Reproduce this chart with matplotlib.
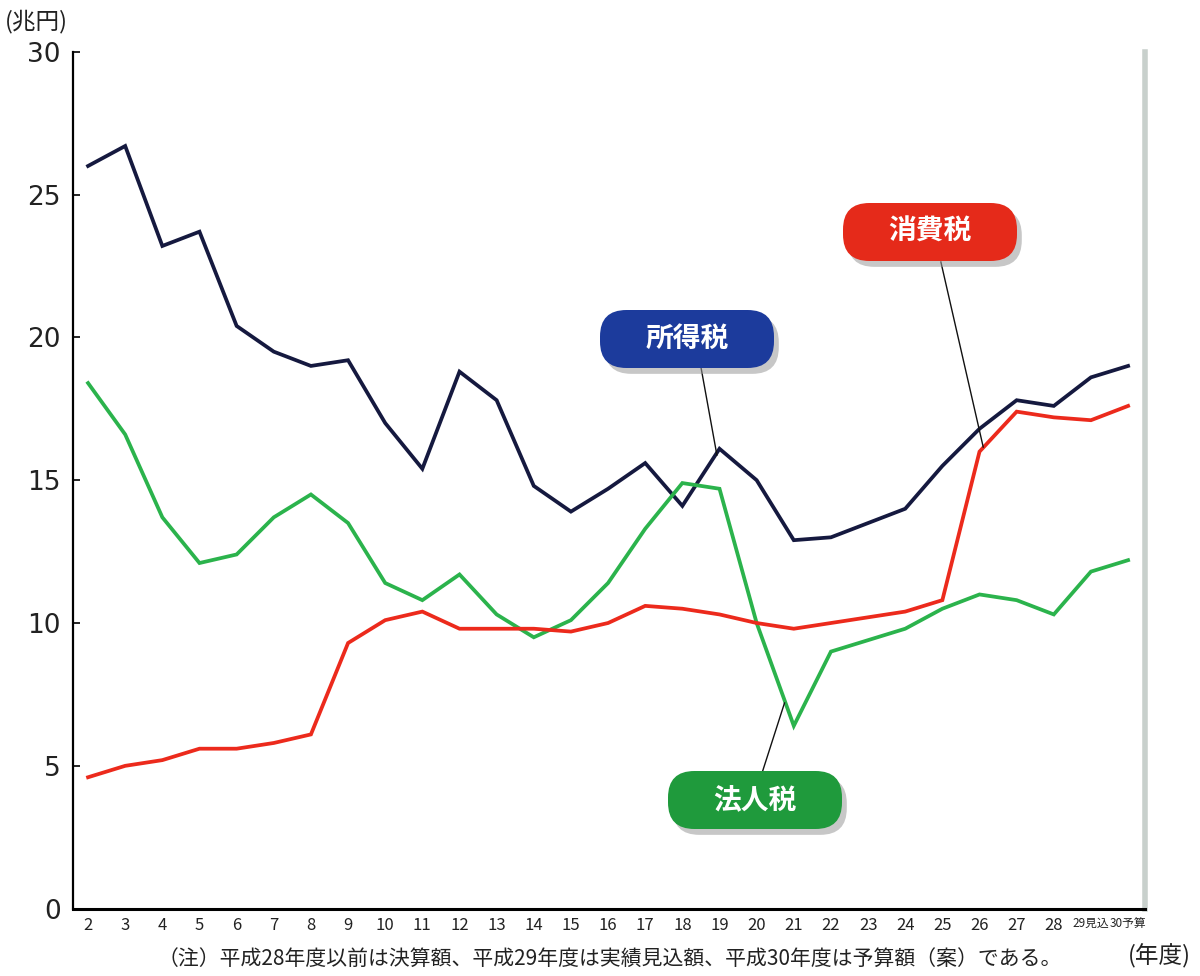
import matplotlib
matplotlib.use('Agg')
import matplotlib.pyplot as plt
from matplotlib.patches import FancyBboxPatch
from matplotlib.transforms import ScaledTranslation
import numpy as np

plt.rcParams['font.family'] = ['Noto Sans CJK JP', 'DejaVu Sans']

# 平成 fiscal years
years = list(range(2, 31))
year_labels = [str(y) for y in range(2, 29)] + ['29見込', '30予算']

income_tax = [26.0, 26.7, 23.2, 23.7, 20.4, 19.5, 19.0, 19.2, 17.0, 15.4,
              18.8, 17.8, 14.8, 13.9, 14.7, 15.6, 14.1, 16.1, 15.0, 12.9,
              13.0, 13.5, 14.0, 15.5, 16.8, 17.8, 17.6, 18.6, 19.0]
corp_tax = [18.4, 16.6, 13.7, 12.1, 12.4, 13.7, 14.5, 13.5, 11.4, 10.8,
            11.7, 10.3, 9.5, 10.1, 11.4, 13.3, 14.9, 14.7, 10.0, 6.4,
            9.0, 9.4, 9.8, 10.5, 11.0, 10.8, 10.3, 11.8, 12.2]
consumption_tax = [4.6, 5.0, 5.2, 5.6, 5.6, 5.8, 6.1, 9.3, 10.1, 10.4,
                   9.8, 9.8, 9.8, 9.7, 10.0, 10.6, 10.5, 10.3, 10.0, 9.8,
                   10.0, 10.2, 10.4, 10.8, 16.0, 17.4, 17.2, 17.1, 17.6]

NAVY = '#15193f'
RED = '#ec2a1c'
GREEN = '#2bb34c'

fig = plt.figure(figsize=(12, 9.76), dpi=100)
ax = fig.add_axes([0.061, 0.069, 0.893, 0.878])

ax.plot(years, income_tax, color=NAVY, lw=2.7, solid_joinstyle='miter', zorder=3)
ax.plot(years, corp_tax, color=GREEN, lw=2.7, solid_joinstyle='miter', zorder=3)
ax.plot(years, consumption_tax, color=RED, lw=2.7, solid_joinstyle='miter', zorder=3)

ax.set_xlim(1.6, 30.45)
ax.set_ylim(0, 30)
ax.set_yticks([0, 5, 10, 15, 20, 25, 30])
ax.set_yticklabels(['0', '5', '10', '15', '20', '25', '30'], fontsize=19,
                   family=['DejaVu Sans'], color='#222222')
ax.set_xticks(years)
ax.set_xticklabels(year_labels, fontsize=12, color='#222222')
xl = ax.get_xticklabels()
for lab, dx in zip(xl[-2:], [-4, 4]):
    lab.set_fontsize(8.5)
    lab.set_transform(lab.get_transform() + ScaledTranslation(dx / 100, 0, fig.dpi_scale_trans))
ax.tick_params(axis='y', direction='in', length=5, width=1.2, pad=9)
ax.tick_params(axis='x', length=0, pad=6)
ax.spines['top'].set_visible(False)
ax.spines['right'].set_color('#c8d0cc')
ax.spines['right'].set_linewidth(4)
ax.spines['left'].set_linewidth(1.6)
ax.spines['bottom'].set_linewidth(2.2)

fig.text(0.004, 0.978, '(兆円)', fontsize=17, color='#222222', va='center')
fig.text(0.508, 0.018, '（注）平成28年度以前は決算額、平成29年度は実績見込額、平成30年度は予算額（案）である。',
         fontsize=15, ha='center', va='center', color='#222222')
fig.text(0.966, 0.020, '(年度)', fontsize=17, ha='center', va='center', color='#222222')

# leader lines
ax.plot([18.5, 18.93], [18.96, 15.88], color='#111111', lw=1.0, zorder=4)
ax.plot([24.96, 26.1], [22.64, 16.16], color='#111111', lw=1.0, zorder=4)
ax.plot([20.14, 20.75], [4.73, 7.2], color='#111111', lw=1.0, zorder=4)

# label boxes (pixel positions on 1200x976 canvas)
boxes = [('所得税', 600, 310, '#1c3b9c'),
         ('消費税', 843, 203, '#e52a1a'),
         ('法人税', 668, 771, '#1f9a3c')]
W, H = 174, 58
for text, x0, y0, col in boxes:
    fx, fy = x0 / 1200, 1 - (y0 + H) / 976
    fw, fh = W / 1200, H / 976
    shadow = FancyBboxPatch((fx + 0.004, fy - 0.006), fw, fh,
                            boxstyle='round,pad=0,rounding_size=0.022',
                            transform=fig.transFigure, fc='#9a9a9a', ec='none',
                            alpha=0.55, zorder=5, mutation_aspect=1.23)
    box = FancyBboxPatch((fx, fy), fw, fh,
                         boxstyle='round,pad=0,rounding_size=0.022',
                         transform=fig.transFigure, fc=col, ec='none',
                         zorder=6, mutation_aspect=1.23)
    fig.add_artist(shadow)
    fig.add_artist(box)
    fig.text(fx + fw / 2, fy + fh / 2, text, fontsize=20, fontweight='bold',
             color='white', ha='center', va='center', zorder=7)

fig.savefig('out.png', dpi=100)
